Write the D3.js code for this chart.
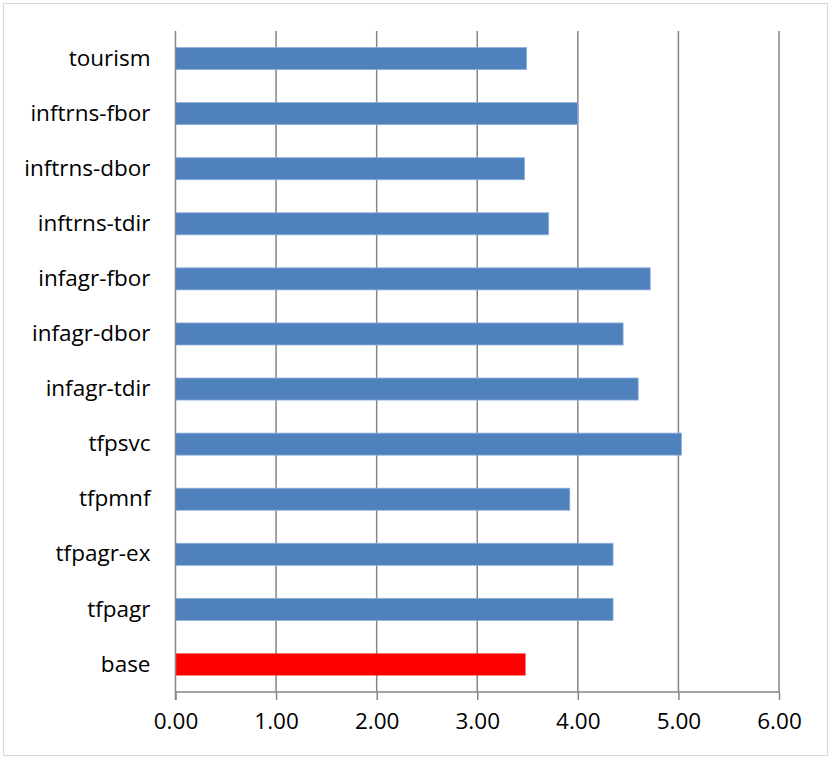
<!DOCTYPE html>
<html>
<head>
<meta charset="utf-8">
<script src="https://cdn.jsdelivr.net/npm/d3@7"></script>
<style>
  body { margin: 0; background: #fff; }
  text { font-family: "Open Sans", "Noto Sans", sans-serif; fill: #000; }
</style>
</head>
<body>
<script>
// data, top to bottom as shown
const categories = ['tourism', 'inftrns-fbor', 'inftrns-dbor', 'inftrns-tdir', 'infagr-fbor',
  'infagr-dbor', 'infagr-tdir', 'tfpsvc', 'tfpmnf', 'tfpagr-ex', 'tfpagr', 'base'];
const values = [3.49, 4.00, 3.47, 3.71, 4.72, 4.45, 4.60, 5.03, 3.92, 4.35, 4.35, 3.48];
const xTicks = [0, 1, 2, 3, 4, 5, 6];

const svgDims = { width: 831, height: 759 };
const margin = { top: 31, right: 52, bottom: 67, left: 175.5 };
const graphWidth = svgDims.width - margin.left - margin.right;
const graphHeight = svgDims.height - margin.top - margin.bottom;

const svg = d3.select('body').append('svg')
  .attr('width', svgDims.width)
  .attr('height', svgDims.height);

// outer chart border
svg.append('rect')
  .attr('x', 3.5).attr('y', 3.5)
  .attr('width', 824).attr('height', 752)
  .attr('fill', 'none')
  .attr('stroke', '#d9d9d9')
  .attr('stroke-width', 1);

const graph = svg.append('g')
  .attr('transform', `translate(${margin.left},${margin.top})`);

const x = d3.scaleLinear().domain([0, 6]).range([0, graphWidth]);
const y = d3.scaleBand()
  .domain(categories)
  .range([0, graphHeight])
  .paddingInner(0.6)
  .paddingOuter(0.3);

// vertical gridlines
graph.append('g')
  .selectAll('line')
  .data(xTicks.slice(1))
  .enter().append('line')
  .attr('x1', d => x(d)).attr('x2', d => x(d))
  .attr('y1', 0).attr('y2', graphHeight)
  .attr('stroke', '#868686')
  .attr('stroke-width', 1.5);

// bars
graph.selectAll('rect.bar')
  .data(values)
  .enter().append('rect')
  .attr('class', 'bar')
  .attr('x', x(0))
  .attr('y', (d, i) => y(categories[i]))
  .attr('width', d => x(d) - x(0))
  .attr('height', y.bandwidth())
  .attr('fill', (d, i) => categories[i] === 'base' ? '#ff0000' : '#4f81bd')
  .attr('stroke', (d, i) => categories[i] === 'base' ? 'none' : '#8eaedb')
  .attr('stroke-width', 0.8);

// x axis
const xAxis = d3.axisBottom(x)
  .tickValues(xTicks)
  .tickSize(8)
  .tickPadding(13)
  .tickFormat(d3.format('.2f'));

const xAxisGroup = graph.append('g')
  .attr('transform', `translate(0,${graphHeight})`)
  .call(xAxis);
xAxisGroup.select('.domain').attr('stroke', '#868686').attr('stroke-width', 1.5)
  .attr('d', `M0,0H${graphWidth}`);
xAxisGroup.selectAll('line').attr('stroke', '#868686').attr('stroke-width', 1.5);
xAxisGroup.selectAll('text')
  .style('font-size', '22.5px')
  .attr('fill', '#000');

// y axis (category labels)
const yAxis = d3.axisLeft(y).tickSize(0).tickPadding(25);
const yAxisGroup = graph.append('g').call(yAxis);
yAxisGroup.select('.domain').attr('stroke', '#868686').attr('stroke-width', 1.5)
  .attr('d', `M0,0V${graphHeight + 8}`);
yAxisGroup.selectAll('text')
  .style('font-size', '22.5px')
  .attr('fill', '#000');
</script>
</body>
</html>
